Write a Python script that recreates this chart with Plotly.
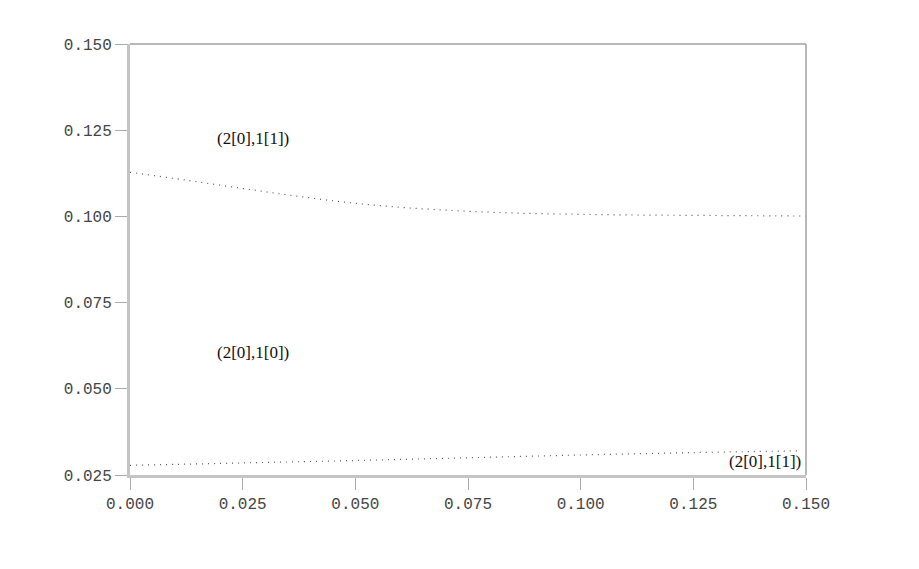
import plotly.graph_objects as go

x_upper = [0.0, 0.0125, 0.025, 0.0375, 0.05, 0.0625, 0.075, 0.0875, 0.1, 0.1125, 0.125, 0.1375, 0.15]
y_upper = [0.1128, 0.1105, 0.1081, 0.1058, 0.1038, 0.1024, 0.1015, 0.1009, 0.1006, 0.1004, 0.1003, 0.1002, 0.1001]

x_lower = [0.0, 0.025, 0.05, 0.075, 0.1, 0.125, 0.148]
y_lower = [0.0278, 0.0285, 0.0292, 0.0300, 0.0308, 0.0315, 0.0320]

labels = ["(2[0],1[1])", "(2[0],1[0])", "(2[0],1[1])"]
label_x = [0.0273, 0.0273, 0.1410]
label_y = [0.1227, 0.0605, 0.0288]

tick_vals = [0.025, 0.050, 0.075, 0.100, 0.125, 0.150]
x_tick_vals = [0.0, 0.025, 0.05, 0.075, 0.1, 0.125, 0.15]

fig = go.Figure()
line_style = dict(color="#555555", width=1.2, dash="1px,5px")
fig.add_trace(go.Scatter(x=x_upper, y=y_upper, mode="lines", line=dict(line_style, shape="spline"), showlegend=False, hoverinfo="skip"))
fig.add_trace(go.Scatter(x=x_lower, y=y_lower, mode="lines", line=dict(line_style, shape="spline"), showlegend=False, hoverinfo="skip"))

for t, lx, ly in zip(labels, label_x, label_y):
    fig.add_annotation(x=lx, y=ly, text=t, showarrow=False,
                       font=dict(family="Liberation Serif", size=17, color="#111111"))

mono = dict(family="Liberation Mono", size=16, color="#444444")
fig.update_layout(
    width=919, height=569,
    margin=dict(l=122, r=121, t=36, b=102),
    plot_bgcolor="white", paper_bgcolor="white",
    xaxis=dict(range=[0, 0.15], tickvals=x_tick_vals, ticktext=[f"{v:.3f}" for v in x_tick_vals],
               showgrid=False, zeroline=False, showline=True, linecolor="#c4c4c4", linewidth=3,
               ticks="outside", ticklen=12, tickcolor="#aaaaaa", tickwidth=1, tickfont=mono),
    yaxis=dict(range=[0.025, 0.150], tickvals=tick_vals, ticktext=[f"{v:.3f}" for v in tick_vals],
               showgrid=False, zeroline=False, showline=True, linecolor="#c4c4c4", linewidth=3,
               ticks="outside", ticklen=12, tickcolor="#aaaaaa", tickwidth=1, tickfont=mono),
    shapes=[
        dict(type="line", xref="paper", yref="paper", x0=0, x1=1, y0=1, y1=1, line=dict(color="#a0a0a0", width=1.5)),
        dict(type="line", xref="paper", yref="paper", x0=1, x1=1, y0=0, y1=1, line=dict(color="#a0a0a0", width=1.5)),
    ],
)
fig.write_html("out.html")
